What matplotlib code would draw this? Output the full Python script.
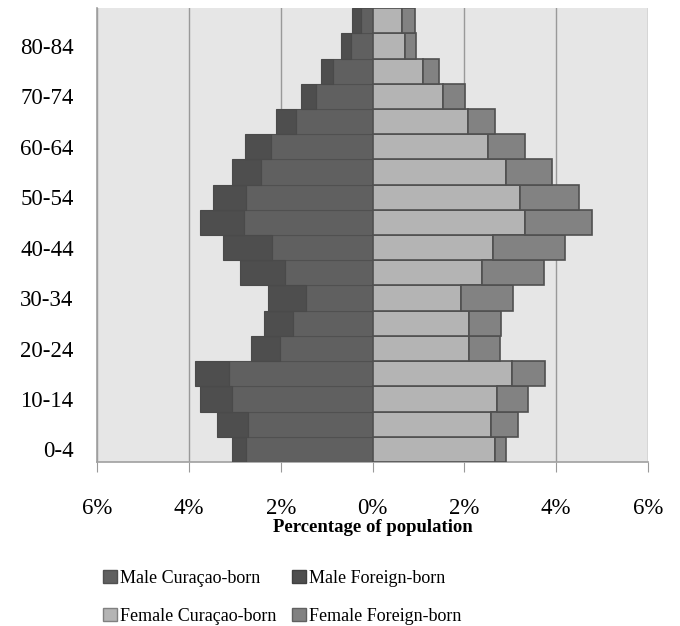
import numpy as np
import matplotlib
matplotlib.use("Agg")
import matplotlib.pyplot as plt
from matplotlib.patches import Patch

# age groups, bottom to top
ages = ['0-4', '5-9', '10-14', '15-19', '20-24', '25-29', '30-34', '35-39',
        '40-44', '45-49', '50-54', '55-59', '60-64', '65-69', '70-74',
        '75-79', '80-84', '85+']

# percent of population
male_cur = [2.75, 2.72, 3.06, 3.12, 2.02, 1.74, 1.46, 1.91, 2.19, 2.81,
            2.75, 2.44, 2.22, 1.66, 1.24, 0.87, 0.48, 0.26]
male_for = [0.31, 0.67, 0.70, 0.74, 0.62, 0.62, 0.81, 0.99, 1.06, 0.95,
            0.72, 0.62, 0.55, 0.44, 0.33, 0.25, 0.22, 0.18]
fem_cur = [2.66, 2.58, 2.71, 3.03, 2.10, 2.10, 1.93, 2.38, 2.63, 3.33,
           3.22, 2.91, 2.51, 2.07, 1.53, 1.10, 0.71, 0.63]
fem_for = [0.25, 0.59, 0.68, 0.73, 0.67, 0.70, 1.13, 1.35, 1.55, 1.44,
           1.27, 0.99, 0.82, 0.60, 0.49, 0.35, 0.24, 0.29]

c_mcur = '#606060'
c_mfor = '#4e4e4e'
c_fcur = '#b4b4b4'
c_fcur_edge = '#505050'
c_ffor = '#828282'

plt.rcParams['font.family'] = ['Liberation Serif', 'DejaVu Serif']

fig = plt.figure(figsize=(6.8, 6.26), dpi=100)
ax = fig.add_axes([0.143, 0.262, 0.81, 0.725])
ax.set_facecolor('#e6e6e6')

y = np.arange(len(ages))
mc = np.array(male_cur)
mf = np.array(male_for)
fc = np.array(fem_cur)
ff = np.array(fem_for)

ax.barh(y, -mc, height=1.0, color=c_mcur, edgecolor='#505050', linewidth=0.8, zorder=3)
ax.barh(y, -mf, left=-mc, height=1.0, color=c_mfor, edgecolor='#4a4a4a', linewidth=0.8, zorder=3)
ax.barh(y, fc, height=1.0, color=c_fcur, edgecolor=c_fcur_edge, linewidth=1.2, zorder=3)
ax.barh(y, ff, left=fc, height=1.0, color=c_ffor, edgecolor=c_fcur_edge, linewidth=1.2, zorder=3)

ax.set_xlim(-6, 6)
ax.set_ylim(-0.5, len(ages) - 0.5)
xt = [-6, -4, -2, 0, 2, 4, 6]
ax.set_xticks(xt)
ax.set_xticklabels(['%d%%' % abs(v) for v in xt], fontsize=16.5)
ax.tick_params(axis='x', length=7, color='#999999', pad=19)
ax.set_yticks(y[::2])
ax.set_yticklabels(ages[::2], fontsize=16.5)
ax.tick_params(axis='y', length=0, pad=17)
ax.xaxis.grid(True, color='#999999', linewidth=1, zorder=0)
ax.set_axisbelow(True)
for s in ['top', 'right']:
    ax.spines[s].set_visible(False)
for s in ['left', 'bottom']:
    ax.spines[s].set_color('#a0a0a0')
    ax.spines[s].set_linewidth(1.2)
ax.set_xlabel('Percentage of population', fontsize=13.5, fontweight='bold', labelpad=0)

handles = [Patch(facecolor=c_mcur, edgecolor='#505050', label='Male Curaçao-born'),
           Patch(facecolor=c_fcur, edgecolor='#808080', label='Female Curaçao-born'),
           Patch(facecolor=c_mfor, edgecolor='#404040', label='Male Foreign-born'),
           Patch(facecolor=c_ffor, edgecolor='#606060', label='Female Foreign-born')]
fig.legend(handles=handles, ncol=2, loc='center', bbox_to_anchor=(0.415, 0.046),
           frameon=False, fontsize=13, handlelength=0.75, handleheight=0.75,
           handletextpad=0.15, columnspacing=0.9, labelspacing=1.15)

fig.savefig('out.png', dpi=100)
